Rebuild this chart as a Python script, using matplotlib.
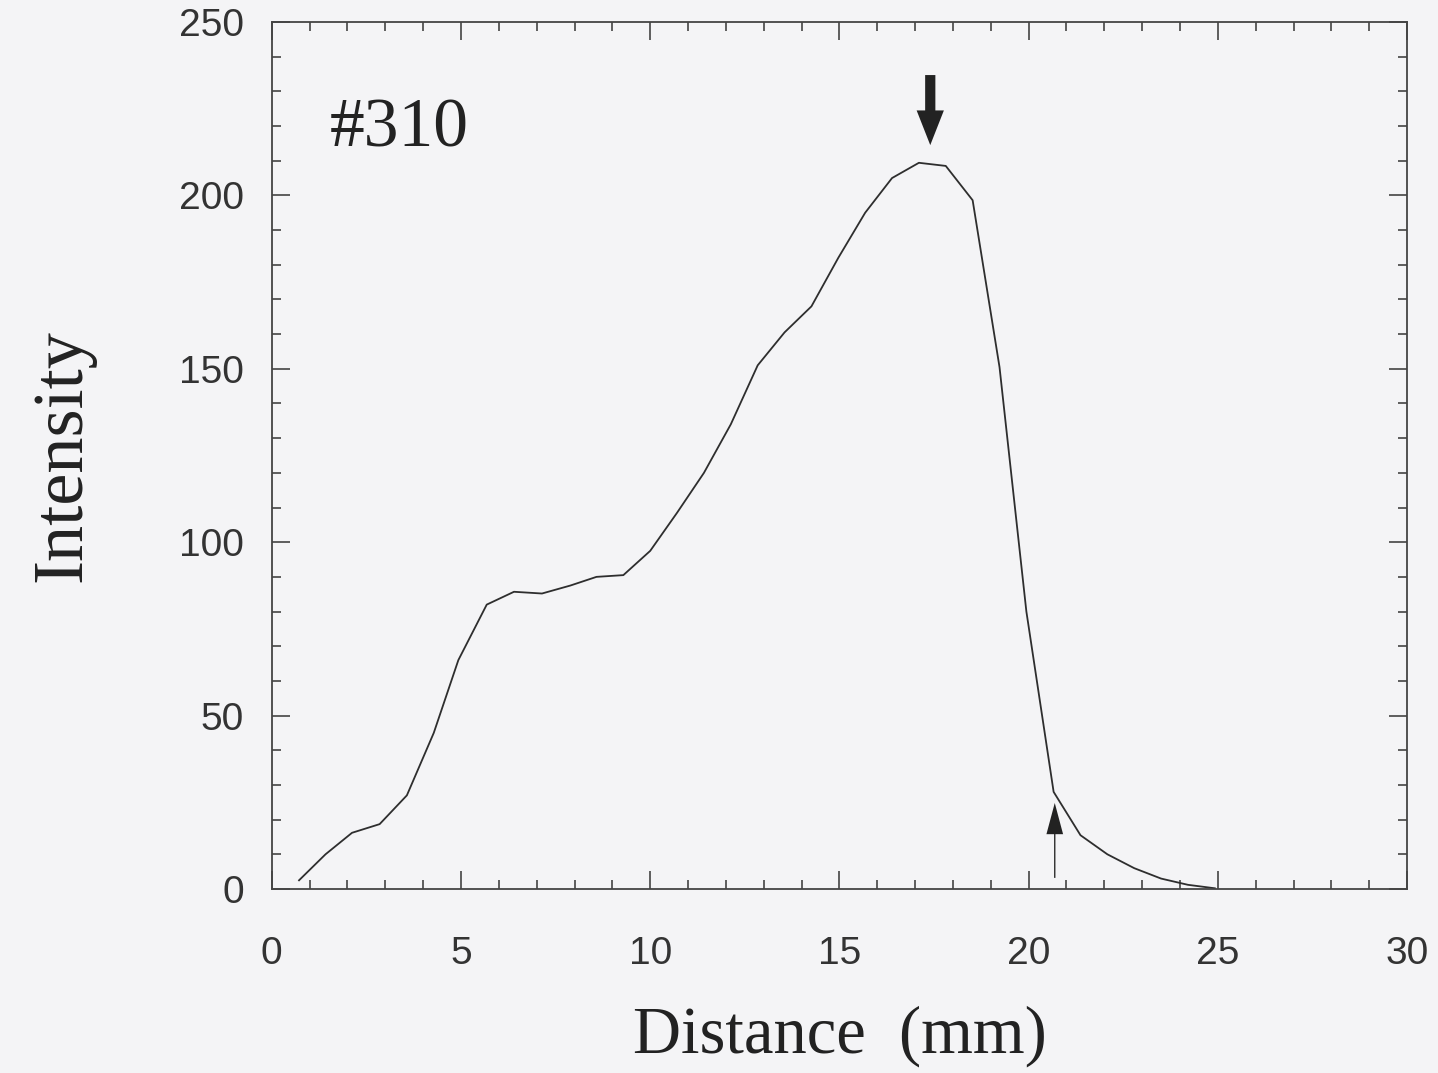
import matplotlib
matplotlib.use("Agg")
import matplotlib.pyplot as plt
from matplotlib.ticker import MultipleLocator

# profile, sample #310
distance = [0.72, 1.42, 2.12, 2.85, 3.57, 4.28, 4.93, 5.68, 6.4, 7.14, 7.89, 8.58,
            9.29, 10.0, 10.71, 11.42, 12.13, 12.84, 13.55, 14.26, 14.97, 15.68,
            16.39, 17.1, 17.81, 18.52, 19.23, 19.94, 20.66, 21.37, 22.08, 22.79,
            23.5, 24.21, 24.92]
intensity = [2.5, 10, 16.2, 18.7, 27, 45, 66, 82, 85.7, 85.2, 87.5, 90,
             90.5, 97.5, 108.5, 120, 134, 151, 160.5, 168, 182, 195,
             205, 209.4, 208.5, 198.6, 150.5, 80, 28, 15.5, 10, 6,
             3, 1.2, 0.2]

xticks = [0, 5, 10, 15, 20, 25, 30]
yticks = [0, 50, 100, 150, 200, 250]
sample_label = "#310"

# arrows: peak marker and edge marker (x, y_tail, y_tip)
peak_arrow = (17.4, 234.7, 214.5)
edge_arrow = (20.69, 3.2, 24.8)

bg = "#f4f4f6"
ink = "#2e2e2e"

fig = plt.figure(figsize=(14.38, 10.73), dpi=100, facecolor=bg)
ax = fig.add_axes([0.189, 0.1715, 0.7895, 0.808])
ax.set_facecolor(bg)

ax.plot(distance, intensity, color=ink, lw=1.3)

ax.set_xlim(0, 30)
ax.set_ylim(0, 250)
ax.set_xticks(xticks)
ax.set_yticks(yticks)
ax.xaxis.set_minor_locator(MultipleLocator(1))
ax.yaxis.set_minor_locator(MultipleLocator(10))

for s in ax.spines.values():
    s.set_color("#444444")
    s.set_linewidth(1.3)

ax.tick_params(which="both", direction="in", top=True, right=True, color="#444444", width=1.2)
ax.tick_params(which="major", length=13)
ax.tick_params(which="minor", length=6.5)
ax.tick_params(axis="x", which="major", pad=34)
ax.tick_params(axis="y", which="major", pad=20)
for lab in ax.get_xticklabels() + ax.get_yticklabels():
    lab.set_fontfamily("Liberation Sans")
    lab.set_fontsize(28)
    lab.set_color("#333333")

ax.set_xlabel("Distance  (mm)", fontfamily="Liberation Serif", fontsize=48, color="#222222", labelpad=24)
ax.set_ylabel("Intensity", fontfamily="Liberation Serif", fontsize=52, color="#222222", labelpad=60)

ax.text(1.54, 214, sample_label, fontfamily="Liberation Serif", fontsize=50, color="#222222")

x, y0, y1 = peak_arrow
ax.arrow(x, y0, 0, y1 - y0, width=0.27, head_width=0.72, head_length=10,
         length_includes_head=True, color="#222222", lw=0)
x, y0, y1 = edge_arrow
ax.arrow(x, y0, 0, y1 - y0, width=0.035, head_width=0.44, head_length=9,
         length_includes_head=True, color="#222222", lw=0)

fig.savefig("out.png", dpi=100, facecolor=bg)
